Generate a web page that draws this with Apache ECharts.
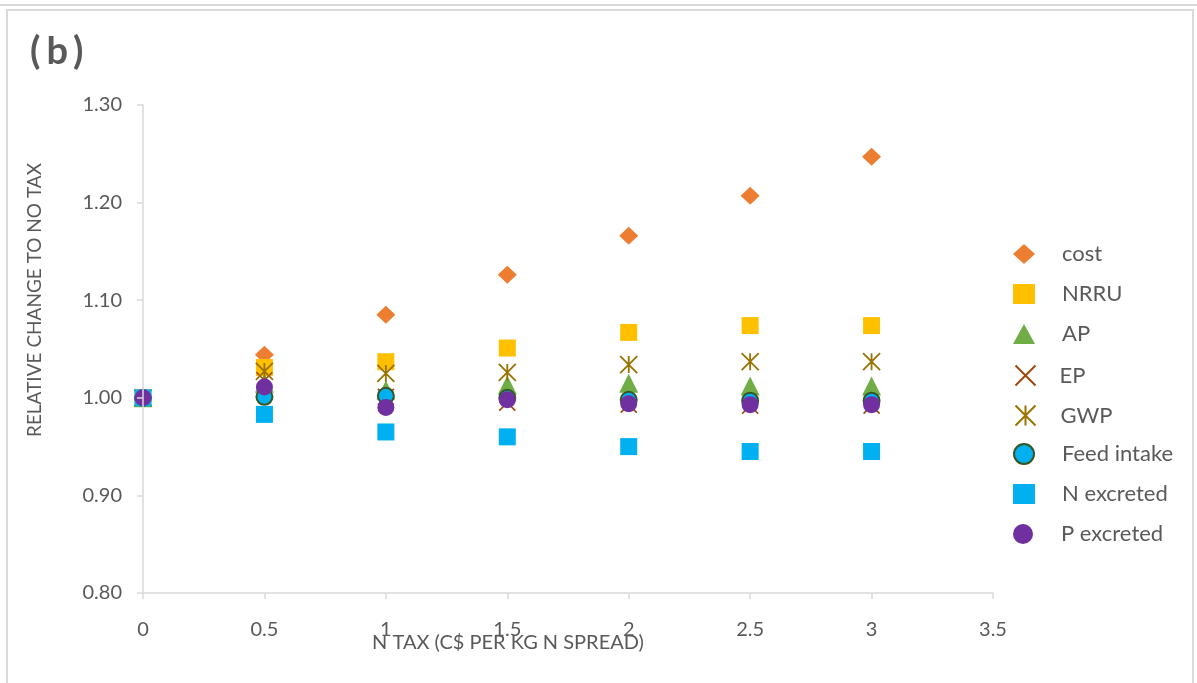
<!DOCTYPE html>
<html>
<head>
<meta charset="utf-8">
<script src="https://cdn.jsdelivr.net/npm/echarts@6/dist/echarts.min.js"></script>
<style>
html,body{margin:0;padding:0;background:#fff;}
#chart{width:1197px;height:683px;}
</style>
</head>
<body>
<div id="chart"></div>
<script>
// ---- data ----
const xValues = [0, 0.5, 1, 1.5, 2, 2.5, 3];
const seriesNames = ['cost', 'NRRU', 'AP', 'EP', 'GWP', 'Feed intake', 'N excreted', 'P excreted'];
const cost       = [1.000, 1.044, 1.085, 1.126, 1.166, 1.207, 1.247];
const nrru       = [1.000, 1.031, 1.037, 1.051, 1.067, 1.074, 1.074];
const ap         = [1.000, 1.015, 1.008, 1.013, 1.015, 1.012, 1.012];
const ep         = [1.000, 1.018, 1.001, 0.995, 0.993, 0.992, 0.992];
const gwp        = [1.000, 1.027, 1.025, 1.026, 1.034, 1.037, 1.037];
const feedIntake = [1.000, 1.001, 1.002, 1.000, 0.998, 0.997, 0.997];
const nExcreted  = [1.000, 0.983, 0.965, 0.960, 0.950, 0.945, 0.945];
const pExcreted  = [1.000, 1.011, 0.990, 0.998, 0.994, 0.993, 0.993];
const yTicks = [0.80, 0.90, 1.00, 1.10, 1.20, 1.30];
const xTicks = [0, 0.5, 1, 1.5, 2, 2.5, 3, 3.5];
const panelLabel = '(b)';
const xTitle = 'N TAX (C$ PER KG N SPREAD)';
const yTitle = 'RELATIVE CHANGE TO NO TAX';

const pair = arr => xValues.map((x, i) => [x, arr[i]]);
const FONT = 'Lato, "Open Sans", sans-serif';
const TXT = '#595959';

const chart = echarts.init(document.getElementById('chart'), null, {renderer: 'canvas'});

const crossPath = 'path://M0,0L10,10M10,0L0,10';
const starPath = 'path://M0,0L10,10M10,0L0,10M5,0L5,10';

const legendTextPad = {'EP': 18, 'GWP': 19};
const legends = seriesNames.map((name, i) => ({
  orient: 'vertical', left: 1013, top: 243 + i * 40, padding: 0,
  itemWidth: 22, itemHeight: 20,
  textStyle: {color: TXT, fontSize: 22, lineHeight: 20, fontFamily: FONT,
              padding: [0, 0, 0, legendTextPad[name] ?? 22]},
  data: [name]
}));

const option = {
  backgroundColor: '#ffffff',
  animation: false,
  textStyle: {fontFamily: FONT},
  grid: {left: 143, right: 204, top: 105, bottom: 90, containLabel: false},
  xAxis: {
    type: 'value', min: 0, max: 3.5, interval: 0.5,
    axisLine: {show: true, lineStyle: {color: '#D9D9D9', width: 1.5}},
    axisTick: {show: true, length: 6, lineStyle: {color: '#D9D9D9', width: 1.5}},
    splitLine: {show: false},
    axisLabel: {
      color: TXT, fontSize: 20, fontFamily: FONT, margin: 27,
      formatter: v => String(xTicks.find(t => Math.abs(t - v) < 1e-9) ?? v)
    }
  },
  yAxis: {
    type: 'value', min: 0.8, max: 1.3, interval: 0.1, z: 5,
    axisLine: {show: true, lineStyle: {color: '#D9D9D9', width: 1.5}},
    axisTick: {show: true, length: 6, lineStyle: {color: '#D9D9D9', width: 1.5}},
    splitLine: {show: false},
    axisLabel: {
      color: TXT, fontSize: 20, fontFamily: FONT, margin: 21,
      formatter: v => (yTicks.find(t => Math.abs(t - v) < 1e-9) ?? v).toFixed(2)
    }
  },
  legend: legends,
  graphic: [
    {type: 'line', shape: {x1: 0, y1: 5, x2: 1197, y2: 5}, style: {stroke: '#D9D9D9', lineWidth: 2}, silent: true},
    {type: 'rect', shape: {x: 7, y: 10, width: 1186, height: 700}, style: {fill: 'none', stroke: '#D9D9D9', lineWidth: 2}, silent: true},
    {type: 'text', left: 30, top: 33, style: {
      text: '{p|' + panelLabel[0] + '}{b|' + panelLabel[1] + '}{p|' + panelLabel[2] + '}',
      rich: {
        p: {fill: TXT, font: 'bold 38px ' + FONT},
        b: {fill: TXT, font: 'bold 38px ' + FONT, padding: [0, 5, 0, 6]}
      }
    }},
    {type: 'text', x: 508, y: 643, style: {text: xTitle, fill: TXT, font: '20px ' + FONT, textAlign: 'center', textVerticalAlign: 'middle'}},
    {type: 'text', x: 35, y: 300, rotation: Math.PI / 2, style: {text: yTitle, fill: TXT, font: '19px ' + FONT, textAlign: 'center', textVerticalAlign: 'middle'}}
  ],
  series: [
    {name: 'cost', type: 'scatter', data: pair(cost), symbol: 'diamond', symbolSize: [19, 18],
     itemStyle: {color: '#ED7D31', opacity: 1}},
    {name: 'NRRU', type: 'scatter', data: pair(nrru), symbol: 'rect', symbolSize: 17,
     itemStyle: {color: '#FFC000', opacity: 1}},
    {name: 'AP', type: 'scatter', data: pair(ap), symbol: 'triangle', symbolSize: [19, 19],
     itemStyle: {color: '#70AD47', opacity: 1}},
    {name: 'EP', type: 'scatter', data: pair(ep), symbol: crossPath, symbolSize: 16,
     itemStyle: {color: 'none', borderColor: '#9E480E', borderWidth: 1.6, opacity: 1}},
    {name: 'GWP', type: 'scatter', data: pair(gwp), symbol: starPath, symbolSize: 17,
     itemStyle: {color: 'none', borderColor: '#997300', borderWidth: 1.8, opacity: 1}},
    {name: 'Feed intake', type: 'scatter', data: pair(feedIntake), symbol: 'circle', symbolSize: 16,
     itemStyle: {color: '#00B0F0', borderColor: '#375623', borderWidth: 2, opacity: 1}},
    {name: 'N excreted', type: 'scatter', data: pair(nExcreted), symbol: 'rect', symbolSize: 17,
     itemStyle: {color: '#00B0F0', opacity: 1}},
    {name: 'P excreted', type: 'scatter', data: pair(pExcreted), symbol: 'circle', symbolSize: 17,
     itemStyle: {color: '#7030A0', opacity: 1}}
  ]
};
chart.setOption(option);
</script>
</body>
</html>
